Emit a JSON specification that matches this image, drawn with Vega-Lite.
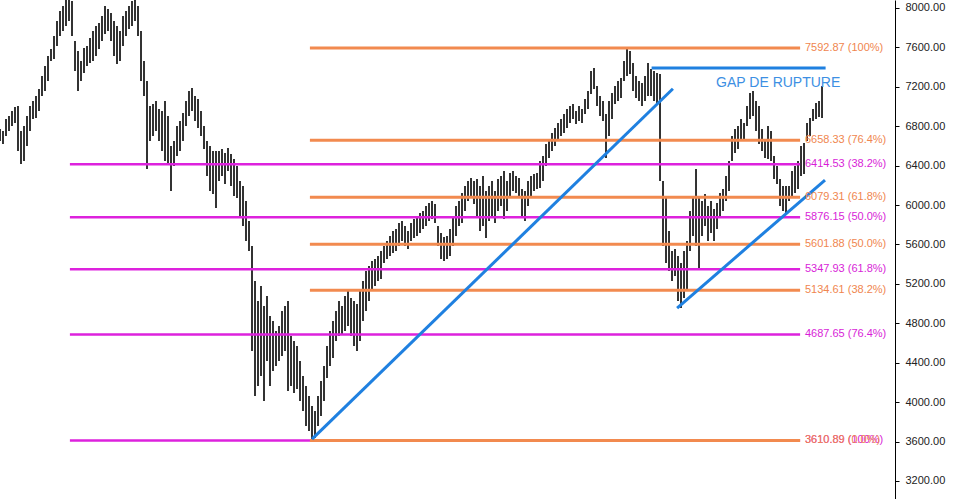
{
"$schema":"https://vega.github.io/schema/vega-lite/v6.json",
"width":895,"height":499,
"autosize":{"type":"none"},
"padding":{"left":0,"top":0,"right":60,"bottom":0},
"background":"white",
"config":{"view":{"stroke":null},"font":"Liberation Sans"},
"datasets":{
"bars":[
{"w":0,"l":6650,"h":6772},{"w":1,"l":6620,"h":6752},{"w":2,"l":6701,"h":6873},{"w":3,"l":6752,"h":6904},{"w":4,"l":6802,"h":6955},{"w":5,"l":6833,"h":6995},{"w":6,"l":6549,"h":7005},{"w":7,"l":6417,"h":6752},{"w":8,"l":6447,"h":6802},{"w":9,"l":6599,"h":6904},
{"w":10,"l":6752,"h":7005},{"w":11,"l":6873,"h":7056},{"w":12,"l":6884,"h":7107},{"w":13,"l":6955,"h":7178},{"w":14,"l":7107,"h":7310},{"w":15,"l":7158,"h":7411},{"w":16,"l":7259,"h":7513},{"w":17,"l":7462,"h":7584},{"w":18,"l":7482,"h":7716},{"w":19,"l":7614,"h":7868},
{"w":20,"l":7716,"h":7970},{"w":21,"l":7767,"h":8020},{"w":22,"l":7817,"h":8122},{"w":23,"l":7868,"h":8152},{"w":24,"l":7716,"h":8071},{"w":25,"l":7361,"h":7665},{"w":26,"l":7158,"h":7564},{"w":27,"l":7259,"h":7462},{"w":28,"l":7340,"h":7594},{"w":29,"l":7411,"h":7614},
{"w":30,"l":7442,"h":7695},{"w":31,"l":7462,"h":7767},{"w":32,"l":7513,"h":7817},{"w":33,"l":7584,"h":7848},{"w":34,"l":7665,"h":7919},{"w":35,"l":7736,"h":8020},{"w":36,"l":7767,"h":7990},{"w":37,"l":7665,"h":7949},{"w":38,"l":7513,"h":7868},{"w":39,"l":7432,"h":7817},
{"w":40,"l":7462,"h":7767},{"w":41,"l":7614,"h":7919},{"w":42,"l":7716,"h":7970},{"w":43,"l":7787,"h":8020},{"w":44,"l":7817,"h":8071},{"w":45,"l":7868,"h":8101},{"w":46,"l":7716,"h":8020},{"w":47,"l":7259,"h":7767},{"w":48,"l":7107,"h":7462},{"w":49,"l":6366,"h":7259},
{"w":50,"l":6650,"h":7005},{"w":51,"l":6701,"h":7026},{"w":52,"l":6752,"h":7056},{"w":53,"l":6650,"h":6975},{"w":54,"l":6549,"h":6955},{"w":55,"l":6447,"h":7056},{"w":56,"l":6417,"h":6904},{"w":57,"l":6143,"h":6599},{"w":58,"l":6396,"h":6650},{"w":59,"l":6498,"h":6802},
{"w":60,"l":6549,"h":6853},{"w":61,"l":6650,"h":6934},{"w":62,"l":6802,"h":7056},{"w":63,"l":6904,"h":7158},{"w":64,"l":6955,"h":7188},{"w":65,"l":6853,"h":7107},{"w":66,"l":6782,"h":7076},{"w":67,"l":6701,"h":6955},{"w":68,"l":6569,"h":6802},{"w":69,"l":6295,"h":6650},
{"w":70,"l":6143,"h":6599},{"w":71,"l":6112,"h":6549},{"w":72,"l":5970,"h":6549},{"w":73,"l":6244,"h":6549},{"w":74,"l":6295,"h":6569},{"w":75,"l":6214,"h":6528},{"w":76,"l":6346,"h":6579},{"w":77,"l":6193,"h":6518},{"w":78,"l":6092,"h":6467},{"w":79,"l":6071,"h":6396},
{"w":80,"l":5889,"h":6244},{"w":81,"l":5787,"h":6193},{"w":82,"l":5635,"h":6041},{"w":83,"l":5534,"h":5838},{"w":84,"l":4519,"h":5584},{"w":85,"l":4062,"h":5229},{"w":86,"l":4163,"h":5026},{"w":87,"l":4265,"h":5178},{"w":88,"l":4011,"h":4976},{"w":89,"l":4417,"h":5077},
{"w":90,"l":4163,"h":4874},{"w":91,"l":4316,"h":4823},{"w":92,"l":4366,"h":4722},{"w":93,"l":4417,"h":4772},{"w":94,"l":4468,"h":4925},{"w":95,"l":4519,"h":4976},{"w":96,"l":4113,"h":5026},{"w":97,"l":4163,"h":4671},{"w":98,"l":4093,"h":4620},{"w":99,"l":4133,"h":4570},
{"w":100,"l":4011,"h":4417},{"w":101,"l":3910,"h":4265},{"w":102,"l":3758,"h":4163},{"w":103,"l":3707,"h":4062},{"w":104,"l":3611,"h":3960},{"w":105,"l":3636,"h":3910},{"w":106,"l":3758,"h":4062},{"w":107,"l":3859,"h":4214},{"w":108,"l":4011,"h":4366},{"w":109,"l":4244,"h":4570},
{"w":110,"l":4366,"h":4722},{"w":111,"l":4448,"h":4823},{"w":112,"l":4620,"h":4925},{"w":113,"l":4671,"h":5026},{"w":114,"l":4691,"h":4976},{"w":115,"l":4722,"h":5077},{"w":116,"l":4772,"h":5128},{"w":117,"l":4671,"h":5057},{"w":118,"l":4570,"h":5026},{"w":119,"l":4519,"h":4996},
{"w":120,"l":4620,"h":5128},{"w":121,"l":4823,"h":5229},{"w":122,"l":4925,"h":5331},{"w":123,"l":5026,"h":5381},{"w":124,"l":5128,"h":5432},{"w":125,"l":5178,"h":5452},{"w":126,"l":5229,"h":5483},{"w":127,"l":5249,"h":5534},{"w":128,"l":5412,"h":5584},{"w":129,"l":5452,"h":5635},
{"w":130,"l":5483,"h":5686},{"w":131,"l":5513,"h":5737},{"w":132,"l":5534,"h":5757},{"w":133,"l":5584,"h":5818},{"w":134,"l":5635,"h":5838},{"w":135,"l":5584,"h":5787},{"w":136,"l":5554,"h":5737},{"w":137,"l":5635,"h":5818},{"w":138,"l":5665,"h":5858},{"w":139,"l":5686,"h":5889},
{"w":140,"l":5716,"h":5919},{"w":141,"l":5757,"h":5940},{"w":142,"l":5787,"h":5990},{"w":143,"l":5838,"h":6021},{"w":144,"l":5858,"h":6041},{"w":145,"l":5818,"h":6011},{"w":146,"l":5584,"h":5787},{"w":147,"l":5452,"h":5716},{"w":148,"l":5432,"h":5676},{"w":149,"l":5452,"h":5686},
{"w":150,"l":5483,"h":5757},{"w":151,"l":5584,"h":5889},{"w":152,"l":5686,"h":5990},{"w":153,"l":5787,"h":6041},{"w":154,"l":5818,"h":6122},{"w":155,"l":5940,"h":6193},{"w":156,"l":6041,"h":6244},{"w":157,"l":6071,"h":6275},{"w":158,"l":6011,"h":6244},{"w":159,"l":5889,"h":6264},
{"w":160,"l":5737,"h":6193},{"w":161,"l":5787,"h":6295},{"w":162,"l":5665,"h":6143},{"w":163,"l":5838,"h":6193},{"w":164,"l":5889,"h":6244},{"w":165,"l":5818,"h":6143},{"w":166,"l":5940,"h":6264},{"w":167,"l":5990,"h":6295},{"w":168,"l":5858,"h":6346},{"w":169,"l":5940,"h":6244},
{"w":170,"l":6092,"h":6325},{"w":171,"l":6143,"h":6346},{"w":172,"l":6122,"h":6295},{"w":173,"l":6092,"h":6275},{"w":174,"l":5889,"h":6163},{"w":175,"l":5838,"h":6143},{"w":176,"l":5990,"h":6244},{"w":177,"l":6092,"h":6295},{"w":178,"l":6143,"h":6315},{"w":179,"l":6163,"h":6325},
{"w":180,"l":6173,"h":6447},{"w":181,"l":6244,"h":6498},{"w":182,"l":6396,"h":6620},{"w":183,"l":6478,"h":6650},{"w":184,"l":6549,"h":6731},{"w":185,"l":6599,"h":6782},{"w":186,"l":6650,"h":6833},{"w":187,"l":6701,"h":6873},{"w":188,"l":6731,"h":6924},{"w":189,"l":6782,"h":6975},
{"w":190,"l":6833,"h":7005},{"w":191,"l":6873,"h":7026},{"w":192,"l":6823,"h":6955},{"w":193,"l":6853,"h":7005},{"w":194,"l":6833,"h":6975},{"w":195,"l":6924,"h":7076},{"w":196,"l":6975,"h":7158},{"w":197,"l":7127,"h":7361},{"w":198,"l":7178,"h":7391},{"w":199,"l":7005,"h":7208},
{"w":200,"l":6904,"h":7107},{"w":201,"l":6853,"h":7056},{"w":202,"l":6478,"h":6924},{"w":203,"l":6701,"h":7056},{"w":204,"l":6873,"h":7137},{"w":205,"l":7026,"h":7208},{"w":206,"l":7056,"h":7259},{"w":207,"l":7087,"h":7290},{"w":208,"l":7259,"h":7462},{"w":209,"l":7310,"h":7584},
{"w":210,"l":7330,"h":7564},{"w":211,"l":7158,"h":7442},{"w":212,"l":7087,"h":7310},{"w":213,"l":7056,"h":7259},{"w":214,"l":7005,"h":7239},{"w":215,"l":7056,"h":7310},{"w":216,"l":7107,"h":7442},{"w":217,"l":7107,"h":7381},{"w":218,"l":7056,"h":7361},{"w":219,"l":7026,"h":7340},
{"w":220,"l":6244,"h":7330},{"w":221,"l":5584,"h":6244},{"w":222,"l":5412,"h":6092},{"w":223,"l":5331,"h":5737},{"w":224,"l":5229,"h":5534},{"w":225,"l":5280,"h":5554},{"w":226,"l":5026,"h":5483},{"w":227,"l":4955,"h":5412},{"w":228,"l":5057,"h":5534},{"w":229,"l":5128,"h":5635},
{"w":230,"l":5534,"h":5940},{"w":231,"l":5686,"h":6092},{"w":232,"l":5584,"h":6366},{"w":233,"l":5351,"h":6092},{"w":234,"l":5686,"h":6041},{"w":235,"l":5787,"h":6112},{"w":236,"l":5635,"h":5990},{"w":237,"l":5716,"h":6041},{"w":238,"l":5635,"h":5960},{"w":239,"l":5757,"h":6021},
{"w":240,"l":5889,"h":6122},{"w":241,"l":5940,"h":6163},{"w":242,"l":6041,"h":6295},{"w":243,"l":6143,"h":6447},{"w":244,"l":6447,"h":6701},{"w":245,"l":6528,"h":6772},{"w":246,"l":6569,"h":6802},{"w":247,"l":6650,"h":6873},{"w":248,"l":6670,"h":6833},{"w":249,"l":6802,"h":7005},
{"w":250,"l":6873,"h":7137},{"w":251,"l":6904,"h":7158},{"w":252,"l":6752,"h":7056},{"w":253,"l":6620,"h":7005},{"w":254,"l":6549,"h":6772},{"w":255,"l":6478,"h":6650},{"w":256,"l":6467,"h":6802},{"w":257,"l":6447,"h":6752},{"w":258,"l":6264,"h":6498},{"w":259,"l":6214,"h":6396},
{"w":260,"l":5990,"h":6264},{"w":261,"l":5940,"h":6193},{"w":262,"l":5909,"h":6193},{"w":263,"l":6041,"h":6193},{"w":264,"l":6092,"h":6346},{"w":265,"l":6122,"h":6396},{"w":266,"l":6163,"h":6447},{"w":267,"l":6295,"h":6599},{"w":268,"l":6315,"h":6630},{"w":269,"l":6650,"h":6833},
{"w":270,"l":6701,"h":6884},{"w":271,"l":6853,"h":6975},{"w":272,"l":6873,"h":7036},{"w":273,"l":6894,"h":7056},{"w":274,"l":6884,"h":7208}
],
"fibM":[
{"p":8141.41,"start":23.3,"end":266.7,"lab":"8141.41 (0.0%)"},
{"p":6414.53,"start":23.3,"end":266.7,"lab":"6414.53 (38.2%)"},
{"p":5876.15,"start":23.3,"end":266.7,"lab":"5876.15 (50.0%)"},
{"p":5347.93,"start":23.3,"end":266.7,"lab":"5347.93 (61.8%)"},
{"p":4687.65,"start":23.3,"end":266.7,"lab":"4687.65 (76.4%)"},
{"p":3610.89,"start":23.3,"end":266.7,"lab":"3610.89 (100%)"}
],
"fibO":[
{"p":7592.87,"start":103.3,"end":266.7,"lab":"7592.87 (100%)"},
{"p":6658.33,"start":103.3,"end":266.7,"lab":"6658.33 (76.4%)"},
{"p":6079.31,"start":103.3,"end":266.7,"lab":"6079.31 (61.8%)"},
{"p":5601.88,"start":103.3,"end":266.7,"lab":"5601.88 (50.0%)"},
{"p":5134.61,"start":103.3,"end":266.7,"lab":"5134.61 (38.2%)"},
{"p":3610.89,"start":103.3,"end":266.7,"lab":"3610.89 (0.0%)"}
],
"trend":[
{"id":1,"w":104,"p":3625},{"id":1,"w":224.3,"p":7180},
{"id":2,"w":225.7,"p":4955},{"id":2,"w":275,"p":6254}
],
"gap":[{"start":217.2,"end":275.2,"p":7391,"x":238.7,"tp":7242,"lab":"GAP DE RUPTURE"}]
},
"layer":[
{"data":{"name":"bars"},"mark":{"type":"rule","stroke":"#000000","strokeWidth":1.6,"clip":true},
 "encoding":{
  "x":{"field":"w","type":"quantitative","scale":{"domain":[0,298.33]},"axis":null},
  "y":{"field":"l","type":"quantitative","title":null,"scale":{"domain":[3017,8081],"nice":false,"zero":false},
   "axis":{"orient":"right","title":null,"grid":false,"values":[3200,3400,3600,3800,4000,4200,4400,4600,4800,5000,5200,5400,5600,5800,6000,6200,6400,6600,6800,7000,7200,7400,7600,7800,8000],
    "labelExpr":"datum.value % 400 === 0 ? format(datum.value, '.2f') : ''",
    "tickSize":{"condition":{"test":"datum.value % 400 === 0","value":4},"value":2},
    "labelPadding":6,"labelFontSize":11,"labelColor":"#222222","labelFont":"Liberation Sans",
    "domainColor":"#000000","tickColor":"#000000","labelOverlap":false,"labelFlush":false,"labelBound":false}},
  "y2":{"field":"h"}}},
{"data":{"name":"fibM"},"mark":{"type":"rule","stroke":"#dd22dd","strokeWidth":2.5,"clip":true},
 "encoding":{"x":{"field":"start","type":"quantitative","scale":{"domain":[0,298.33]},"axis":null},"x2":{"field":"end"},
  "y":{"field":"p","type":"quantitative","title":null}}},
{"data":{"name":"fibO"},"mark":{"type":"rule","stroke":"#f28a4f","strokeWidth":3,"clip":true},
 "encoding":{"x":{"field":"start","type":"quantitative","scale":{"domain":[0,298.33]},"axis":null},"x2":{"field":"end"},
  "y":{"field":"p","type":"quantitative","title":null}}},
{"data":{"name":"gap"},"mark":{"type":"rule","stroke":"#1f80e0","strokeWidth":3},
 "encoding":{"x":{"field":"start","type":"quantitative","scale":{"domain":[0,298.33]},"axis":null},"x2":{"field":"end"},
  "y":{"field":"p","type":"quantitative","title":null}}},
{"data":{"name":"trend"},"mark":{"type":"line","stroke":"#1f80e0","strokeWidth":3},
 "encoding":{"x":{"field":"w","type":"quantitative","scale":{"domain":[0,298.33]},"axis":null},
  "y":{"field":"p","type":"quantitative","title":null},"detail":{"field":"id"}}},
{"data":{"name":"fibM"},"mark":{"type":"text","align":"left","baseline":"middle","fontSize":11,"font":"Liberation Sans","color":"#d81ed8"},
 "encoding":{"x":{"datum":268.3,"type":"quantitative","scale":{"domain":[0,298.33]},"axis":null},
  "y":{"field":"p","type":"quantitative","title":null},"text":{"field":"lab"}}},
{"data":{"name":"fibO"},"mark":{"type":"text","align":"left","baseline":"middle","fontSize":11,"font":"Liberation Sans","color":"#f0864f"},
 "encoding":{"x":{"datum":268.3,"type":"quantitative","scale":{"domain":[0,298.33]},"axis":null},
  "y":{"field":"p","type":"quantitative","title":null},"text":{"field":"lab"}}},
{"data":{"name":"gap"},"mark":{"type":"text","align":"left","baseline":"middle","fontSize":14,"font":"Liberation Sans","color":"#3d8fe3"},
 "encoding":{"x":{"field":"x","type":"quantitative","scale":{"domain":[0,298.33]},"axis":null},
  "y":{"field":"tp","type":"quantitative","title":null},"text":{"field":"lab"}}}
]
}
